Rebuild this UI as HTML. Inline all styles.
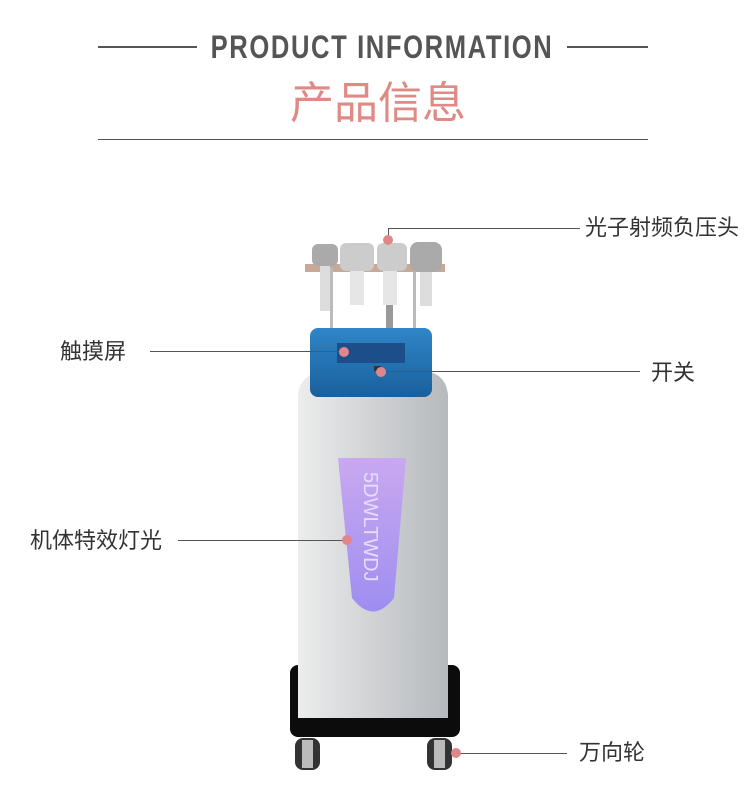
<!DOCTYPE html>
<html><head><meta charset="utf-8"><style>
body{margin:0;width:750px;height:805px;background:#fff;position:relative;overflow:hidden;font-family:"Liberation Sans","Noto Sans CJK SC",sans-serif}
.a{position:absolute}
.t{position:absolute;font-size:22px;color:#333;line-height:1;white-space:nowrap}
.l{position:absolute;height:1px;background:#555}
.d{position:absolute;width:10px;height:10px;border-radius:50%;background:#e0868a}
</style></head><body>
<div class="a" style="left:98px;top:46px;width:99px;height:2px;background:#555"></div>
<div class="a" style="left:567px;top:46px;width:81px;height:2px;background:#555"></div>
<div class="a" style="left:382px;top:31px;white-space:nowrap;font-size:32px;font-weight:bold;color:#555;letter-spacing:2px;line-height:1;transform:translateX(-50%) scaleX(0.8)">PRODUCT INFORMATION</div>
<div class="a" style="left:290px;top:82px;font-size:44px;color:#e08a85;line-height:1;white-space:nowrap">产品信息</div>
<div class="a" style="left:98px;top:139px;width:550px;height:1px;background:#555"></div>

<svg class="a" style="left:0;top:0" width="750" height="805">
<defs>
<linearGradient id="g" x1="0" x2="1"><stop offset="0" stop-color="#eceded"/><stop offset="0.5" stop-color="#d0d2d4"/><stop offset="1" stop-color="#b6b9bd"/></linearGradient>
<linearGradient id="p" x1="0" y1="0" x2="0" y2="1"><stop offset="0" stop-color="#c9a8f0"/><stop offset="1" stop-color="#9e8ef0"/></linearGradient>
<linearGradient id="b" x1="0" y1="0" x2="0" y2="1"><stop offset="0" stop-color="#2f86c8"/><stop offset="1" stop-color="#1a5f9c"/></linearGradient>
</defs>
<rect x="290" y="665" width="170" height="72" rx="8" fill="#0c0c0c"/>
<rect x="295" y="738" width="25" height="32" rx="8" fill="#333"/><rect x="302" y="740" width="11" height="28" fill="#bbb"/>
<rect x="427" y="738" width="25" height="32" rx="8" fill="#333"/><rect x="434" y="740" width="11" height="28" fill="#bbb"/>
<path d="M298 395 Q300 372 330 370 L420 370 Q446 372 448 395 L448 718 L298 718 Z" fill="url(#g)"/>
<path d="M338 458 L406 458 L394 598 Q373 625 352 598 Z" fill="url(#p)"/>
<text x="0" y="0" transform="translate(364,472) rotate(90)" font-size="20" fill="#e8dcff" font-family="Liberation Sans">5DWLTWDJ</text>
<rect x="305" y="264" width="140" height="8" fill="#c8a896"/>
<rect x="330" y="268" width="3" height="62" fill="#bbb"/><rect x="413" y="268" width="3" height="62" fill="#bbb"/>
<rect x="312" y="244" width="26" height="22" rx="6" fill="#aaa"/><rect x="320" y="266" width="10" height="45" fill="#ddd"/>
<rect x="340" y="243" width="34" height="28" rx="6" fill="#ccc"/><rect x="350" y="271" width="14" height="34" fill="#e6e6e6"/>
<rect x="377" y="243" width="30" height="28" rx="6" fill="#ccc"/><rect x="383" y="271" width="14" height="34" fill="#e6e6e6"/><rect x="386" y="305" width="7" height="23" fill="#999"/>
<rect x="410" y="242" width="32" height="30" rx="8" fill="#aaa"/><rect x="420" y="272" width="12" height="34" fill="#ddd"/>
<rect x="310" y="328" width="122" height="69" rx="8" fill="url(#b)"/>
<rect x="337" y="343" width="68" height="20" fill="#1c4e8a"/>
<rect x="374" y="366" width="7" height="5" fill="#333"/>
</svg>

<div class="l" style="left:388px;top:228px;width:192px"></div>
<div class="a" style="left:388px;top:228px;width:1px;height:12px;background:#555"></div>
<div class="d" style="left:383px;top:235px"></div>
<div class="t" style="left:585px;top:217px">光子射频负压头</div>

<div class="l" style="left:150px;top:351px;width:192px"></div>
<div class="d" style="left:339px;top:347px"></div>
<div class="t" style="left:60px;top:341px">触摸屏</div>

<div class="l" style="left:383px;top:371px;width:257px"></div>
<div class="d" style="left:376px;top:367px"></div>
<div class="t" style="left:651px;top:362px">开关</div>

<div class="l" style="left:178px;top:540px;width:167px"></div>
<div class="d" style="left:342px;top:535px"></div>
<div class="t" style="left:30px;top:530px">机体特效灯光</div>

<div class="l" style="left:458px;top:753px;width:109px"></div>
<div class="d" style="left:451px;top:748px"></div>
<div class="t" style="left:579px;top:742px">万向轮</div>
</body></html>
